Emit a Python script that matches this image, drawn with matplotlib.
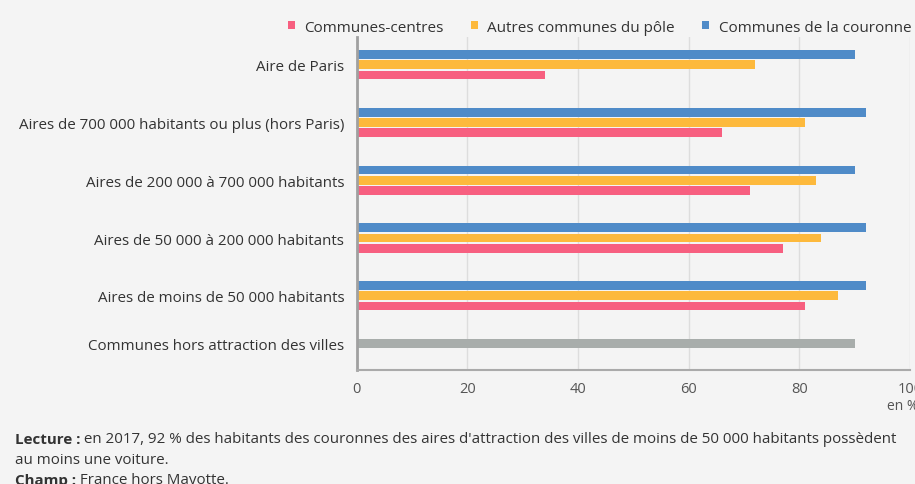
import matplotlib.pyplot as plt
import numpy as np

plt.rcParams['font.family'] = ['Open Sans', 'DejaVu Sans']

categories = ['Aire de Paris',
              'Aires de 700 000 habitants ou plus (hors Paris)',
              'Aires de 200 000 à 700 000 habitants',
              'Aires de 50 000 à 200 000 habitants',
              'Aires de moins de 50 000 habitants',
              'Communes hors attraction des villes']
couronne = [90, 92, 90, 92, 92]
autres_pole = [72, 81, 83, 84, 87]
centres = [34, 66, 71, 77, 81]
hors_attraction = 90

bg = '#f4f4f4'
c_blue = '#4f8bc8'
c_yellow = '#fdb93c'
c_pink = '#f75f80'
c_gray = '#a8adab'

fig = plt.figure(figsize=(9.15, 4.85), dpi=100, facecolor=bg)
ax = fig.add_axes([0.390, 0.235, 0.6045, 0.687])
ax.set_facecolor(bg)

y = np.arange(len(categories))
off = 0.178
h = 0.152
n = len(couronne)
ax.barh(y[:n] - off, couronne, height=h, color=c_blue, label='Communes de la couronne')
ax.barh(y[:n], autres_pole, height=h, color=c_yellow, label='Autres communes du pôle')
ax.barh(y[:n] + off, centres, height=h, color=c_pink, label='Communes-centres')
ax.barh(y[n] - off, hors_attraction, height=h, color=c_gray)

ax.set_xlim(0, 100)
ax.set_ylim(5.286, -0.485)
ax.set_xticks([0, 20, 40, 60, 80, 100])
ax.set_yticks(y - np.array([0, 0, 0, 0, 0, off]))
ax.set_yticklabels(categories)
ax.tick_params(axis='y', length=0, pad=9, labelsize=10.9, labelcolor='#333333')
ax.tick_params(axis='x', length=0, pad=8, labelsize=10.5, labelcolor='#555555')
ax.grid(axis='x', color='#dddddd', linewidth=1)
ax.set_axisbelow(True)
for s in ['top', 'right']:
    ax.spines[s].set_visible(False)
ax.spines['left'].set_color('#a0a0a0')
ax.spines['left'].set_linewidth(2)
ax.spines['bottom'].set_color('#aaaaaa')
ax.spines['bottom'].set_linewidth(1.5)

fig.text(0.969, 1 - 407 / 485, 'en %', fontsize=10, color='#555555', va='center')

# legende
handles, labels = ax.get_legend_handles_labels()
order = [2, 1, 0]
fig.legend([handles[i] for i in order], [labels[i] for i in order],
           loc='center left', bbox_to_anchor=(274 / 915, 1 - 28 / 485), ncol=3,
           frameon=False, fontsize=11, handlelength=0.5, handleheight=0.5,
           handletextpad=0.6, columnspacing=1.75, labelcolor='#333333')

# notes
fs = 10.9
t1 = fig.text(15 / 915, 1 - 440 / 485, 'Lecture :', fontsize=fs, fontweight='bold',
              color='#333333', va='center')
ax.annotate(' en 2017, 92 % des habitants des couronnes des aires d\'attraction des villes '
            'de moins de 50 000 habitants possèdent', xy=(1, 0.5), xycoords=t1,
            va='center', fontsize=fs, color='#333333', annotation_clip=False)
fig.text(15 / 915, 1 - 461 / 485, 'au moins une voiture.', fontsize=fs,
         color='#333333', va='center')
t2 = fig.text(15 / 915, 1 - 481 / 485, 'Champ :', fontsize=fs, fontweight='bold',
              color='#333333', va='center')
ax.annotate(' France hors Mayotte.', xy=(1, 0.5), xycoords=t2, va='center',
            fontsize=fs, color='#333333', annotation_clip=False)

fig.savefig('out.png', dpi=100, facecolor=bg)
